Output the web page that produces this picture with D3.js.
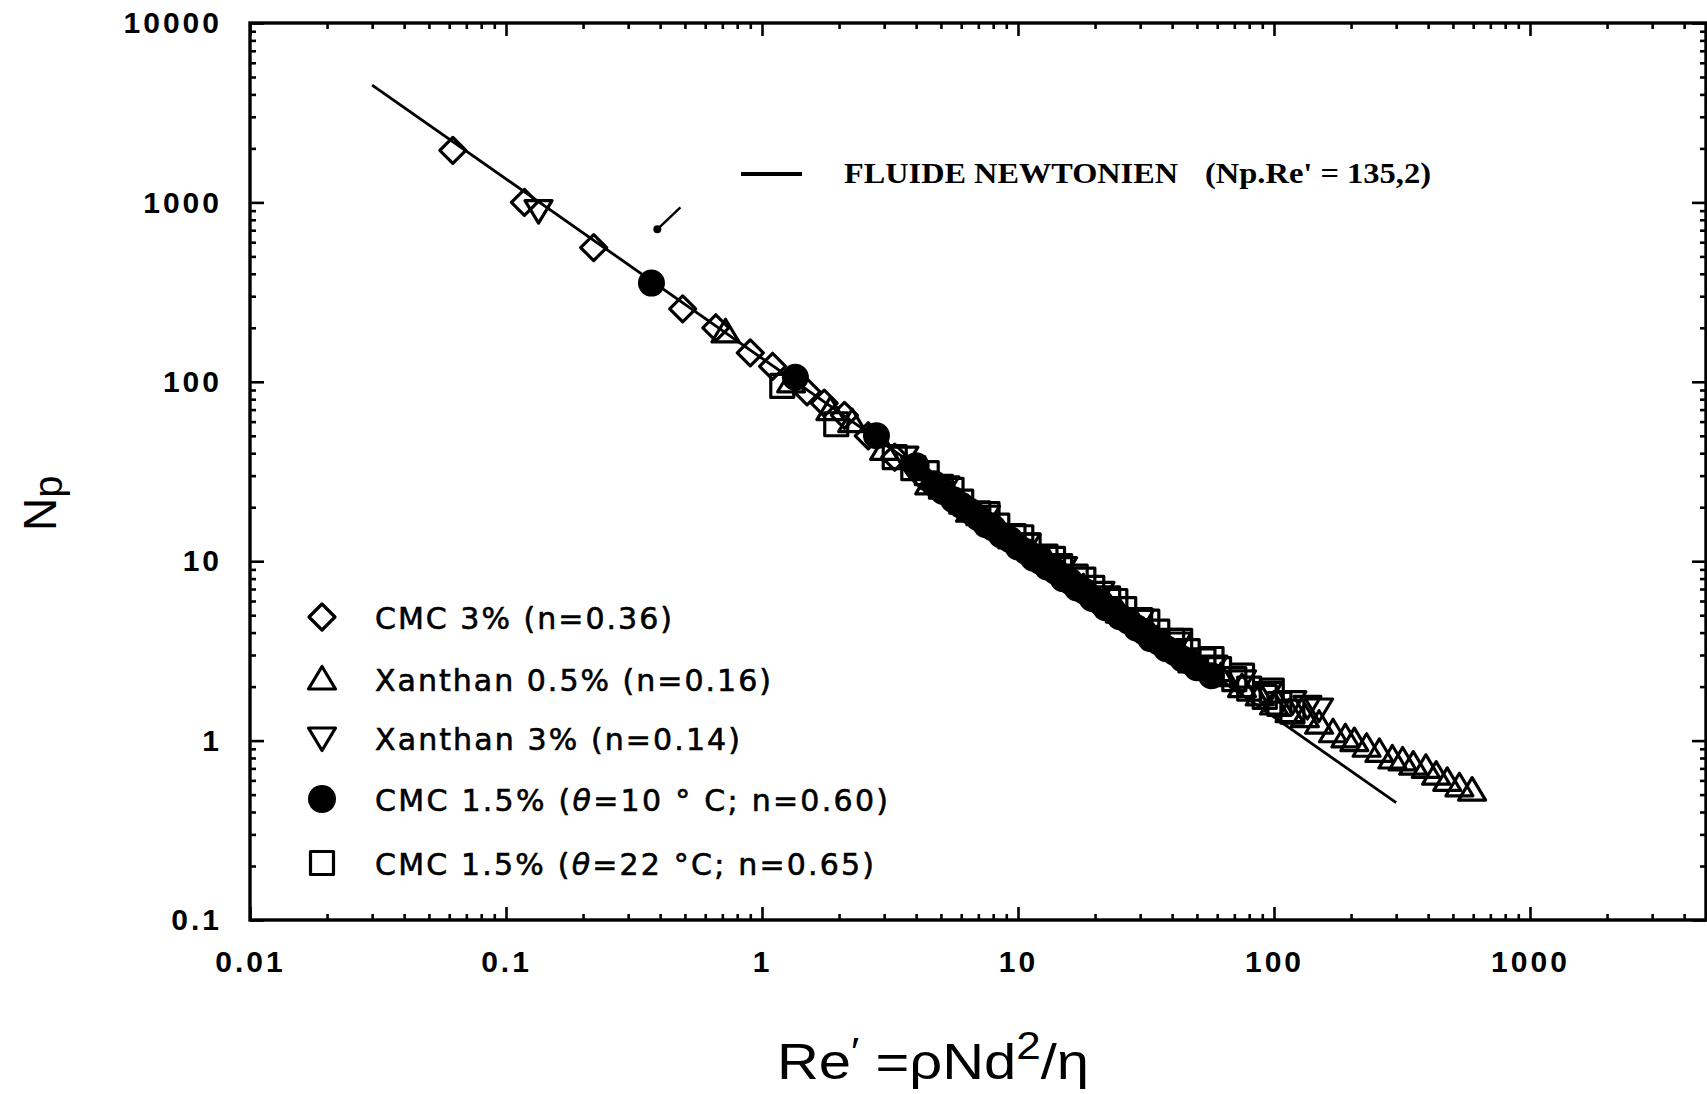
<!DOCTYPE html>
<html>
<head>
<meta charset="utf-8">
<script src="https://cdn.jsdelivr.net/npm/d3@7"></script>
<style>
  html, body { margin: 0; padding: 0; background: #fff; }
  svg { display: block; }
  .tick-label { font-family: "Liberation Sans", Arial, sans-serif; font-weight: bold; font-size: 30px; letter-spacing: 3px; fill: #000; }
  .leg { font-family: "DejaVu Sans", sans-serif; font-size: 30px; fill: #000; stroke: #000; stroke-width: 0.6px; }
</style>
</head>
<body>
<svg id="chart" width="1707" height="1094"></svg>
<script>
// ---------------- DATA ----------------
const xTickLabels = ["0.01", "0.1", "1", "10", "100", "1000"];
const yTickLabels = ["0.1", "1", "10", "100", "1000", "10000"];
const xDomain = [0.01, 4870];
const yDomain = [0.1, 10000];

// Newtonian fluid: Np.Re' = 135.2
const newtonConst = 135.2;
const newtonRe = [0.03, 300];

// CMC 3% (n=0.36) - open diamonds
const cmc3Re = [0.062, 0.118, 0.22, 0.49, 0.66, 0.9, 1.1, 1.5, 1.75, 2.1, 2.6, 3.3, 4.2];
const cmc3Np = [1950, 1000, 560, 255, 200, 145, 122, 88, 76, 65, 50, 38, 30];

// Xanthan 0.5% (n=0.16) - open triangles up
const xan05Re = [0.72, 1.3, 1.85, 2.25, 3.0, 4.5, 6.5, 9.5, 13, 18, 25, 35, 48, 62, 75, 88, 100, 115,
                 132, 150, 170, 190, 206, 230, 258, 290, 318, 350, 392, 430, 475, 530, 594];
const xan05Np = [190, 100, 70, 60, 42, 27, 19, 13.5, 10.2, 7.2, 5.2, 3.7, 2.75, 2.3, 2.0, 1.8, 1.6, 1.45,
                 1.36, 1.25, 1.12, 1.05, 1.0, 0.93, 0.87, 0.80, 0.78, 0.74, 0.71, 0.65, 0.60, 0.56, 0.53];

// Xanthan 3% (n=0.14) - open triangles down
const xan3Re = [0.134, 3.6, 5.2, 7.5, 10.8, 15, 21, 30, 42, 58, 75, 95, 118, 135, 150];
const xan3Np = [900, 38, 26, 17.8, 12.5, 9.2, 6.7, 4.7, 3.5, 2.6, 2.15, 1.85, 1.65, 1.55, 1.5];

// CMC 1.5% (theta=10 C; n=0.60) - filled circles
const cmc15aRe = [0.37, 1.35, 2.8, 4.0, 4.7, 5.6, 6.5, 7.5, 8.6, 10, 11.5, 13, 15, 17, 19.5, 22, 25, 29, 33, 38, 44, 50, 57,
                  5.1, 6.0, 7.0, 8.0, 9.3, 10.8, 12.2, 14, 16, 18.2, 21, 23.5, 27, 31, 35.5, 41, 47];
const cmc15aNp = [355, 106, 50, 34, 27, 22, 19, 16, 14, 12, 10.4, 9.3, 8.0, 7.1, 6.2, 5.5, 4.9, 4.25, 3.7, 3.25, 2.85, 2.55, 2.3,
                  24.5, 20.5, 17.5, 15.3, 13.2, 11.3, 10.0, 8.8, 7.7, 6.8, 5.9, 5.3, 4.65, 4.05, 3.55, 3.1, 2.75];

// CMC 1.5% (theta=22 C; n=0.65) - open squares
const cmc15bRe = [1.2, 1.95, 3.3, 3.9, 5.0, 6.0, 7.0, 8.3, 9.6, 11, 12.8, 14.6, 16.8, 19.5, 22.5, 26, 30, 35, 40, 46, 53, 61, 70, 80, 92, 105, 118,
                  4.4, 5.5, 7.6, 10.3, 13.7, 18, 24, 32, 43, 57, 75, 98];
const cmc15bNp = [95, 58, 38, 33, 26, 21.5, 18.5, 15.8, 13.8, 12.2, 10.6, 9.4, 8.2, 7.1, 6.2, 5.4, 4.7, 4.05, 3.6, 3.15, 2.8, 2.5, 2.2, 1.95, 1.75, 1.6, 1.45,
                  31, 25, 18.3, 13.6, 10.3, 7.9, 6.0, 4.6, 3.6, 2.85, 2.3, 1.9];

// stray scan mark (small arrow)
const strayRe = [0.48, 0.39];
const strayNp = [937, 708];

const legendLabels = ["CMC 3% (n=0.36)", "Xanthan 0.5% (n=0.16)", "Xanthan 3% (n=0.14)",
                      "CMC 1.5% (θ=10 ° C; n=0.60)", "CMC 1.5% (θ=22 °C; n=0.65)"];

// ---------------- CHART ----------------
const svg = d3.select("#chart");
const L = 250, R = 1706, T = 23, B = 920;
const x = d3.scaleLog().domain(xDomain).range([L, R]);
const y = d3.scaleLog().domain(yDomain).range([B, T]);

const majorX = xTickLabels.map(Number);
const majorY = yTickLabels.map(Number);
function minors(dom) {
  const out = [];
  for (let e = Math.floor(Math.log10(dom[0])); e <= Math.ceil(Math.log10(dom[1])); e++) {
    for (let k = 2; k <= 9; k++) {
      const v = k * Math.pow(10, e);
      if (v > dom[0] && v < dom[1]) out.push(v);
    }
  }
  return out;
}
const minorX = minors(xDomain), minorY = minors(yDomain);

function styleAxis(g) {
  g.select(".domain").remove();
  g.selectAll(".tick line").attr("stroke", "#000").attr("stroke-width", 2.6);
}

// bottom
svg.append("g").attr("transform", `translate(0,${B})`)
  .call(d3.axisBottom(x).tickValues(majorX).tickSize(-13).tickPadding(31).tickFormat((d, i) => xTickLabels[i]))
  .call(styleAxis)
  .selectAll("text").attr("class", "tick-label").attr("font-size", null).attr("font-family", null);
svg.append("g").attr("transform", `translate(0,${B})`)
  .call(d3.axisBottom(x).tickValues(minorX).tickSize(-6).tickFormat(""))
  .call(styleAxis);
// top
svg.append("g").attr("transform", `translate(0,${T})`)
  .call(d3.axisTop(x).tickValues(majorX).tickSize(-13).tickFormat(""))
  .call(styleAxis);
svg.append("g").attr("transform", `translate(0,${T})`)
  .call(d3.axisTop(x).tickValues(minorX).tickSize(-6).tickFormat(""))
  .call(styleAxis);
// left
svg.append("g").attr("transform", `translate(${L},0)`)
  .call(d3.axisLeft(y).tickValues(majorY).tickSize(-14).tickPadding(28).tickFormat((d, i) => yTickLabels[i]))
  .call(styleAxis)
  .selectAll("text").attr("class", "tick-label").attr("font-size", null).attr("font-family", null);
svg.append("g").attr("transform", `translate(${L},0)`)
  .call(d3.axisLeft(y).tickValues(minorY).tickSize(-6).tickFormat(""))
  .call(styleAxis);
// right
svg.append("g").attr("transform", `translate(${R},0)`)
  .call(d3.axisRight(y).tickValues(majorY).tickSize(-14).tickFormat(""))
  .call(styleAxis);
svg.append("g").attr("transform", `translate(${R},0)`)
  .call(d3.axisRight(y).tickValues(minorY).tickSize(-6).tickFormat(""))
  .call(styleAxis);

// frame
svg.append("rect").attr("x", L).attr("y", T).attr("width", R - L).attr("height", B - T)
  .attr("fill", "none").attr("stroke", "#000").attr("stroke-width", 3.4);

// Newtonian line
const line = d3.line().x(d => x(d)).y(d => y(newtonConst / d));
svg.append("path").datum(newtonRe).attr("d", line)
  .attr("fill", "none").attr("stroke", "#000").attr("stroke-width", 2.8);

// stray mark
svg.append("line").attr("x1", x(strayRe[0])).attr("y1", y(strayNp[0]))
  .attr("x2", x(strayRe[1])).attr("y2", y(strayNp[1])).attr("stroke", "#000").attr("stroke-width", 2.4);
svg.append("circle").attr("cx", x(strayRe[1])).attr("cy", y(strayNp[1])).attr("r", 4).attr("fill", "#000");

// marker shapes
const shapes = {
  diamond: "M0,-13L13,0L0,13L-13,0Z",
  triUp: "M-13.5,10L13.5,10L0,-12.5Z",
  triDown: "M-13.5,-10L13.5,-10L0,12.5Z",
  square: "M-11.5,-11.5L11.5,-11.5L11.5,11.5L-11.5,11.5Z"
};
function drawSeries(res, nps, kind) {
  const pts = res.map((r, i) => [r, nps[i]]);
  const g = svg.append("g");
  if (kind === "circle") {
    g.selectAll("circle").data(pts).join("circle")
      .attr("cx", d => x(d[0])).attr("cy", d => y(d[1])).attr("r", 13.5).attr("fill", "#000");
  } else {
    g.selectAll("path").data(pts).join("path")
      .attr("d", shapes[kind])
      .attr("transform", d => `translate(${x(d[0])},${y(d[1])})`)
      .attr("fill", "none").attr("stroke", "#000").attr("stroke-width", 3.2).attr("stroke-linejoin", "round");
  }
}
drawSeries(cmc15bRe, cmc15bNp, "square");
drawSeries(xan3Re, xan3Np, "triDown");
drawSeries(xan05Re, xan05Np, "triUp");
drawSeries(cmc3Re, cmc3Np, "diamond");
drawSeries(cmc15aRe, cmc15aNp, "circle");

// legend (lower left)
const legKinds = ["diamond", "triUp", "triDown", "circle", "square"];
const legY = [617, 679, 738, 799, 863];
const legLen = [297, 396, 365, 513, 499];
legKinds.forEach((k, i) => {
  if (k === "circle") {
    svg.append("circle").attr("cx", 322).attr("cy", legY[i]).attr("r", 14).attr("fill", "#000");
  } else {
    svg.append("path").attr("d", shapes[k]).attr("transform", `translate(322,${legY[i]})`)
      .attr("fill", "none").attr("stroke", "#000").attr("stroke-width", 3.2).attr("stroke-linejoin", "round");
  }
  const t = svg.append("text").attr("class", "leg").attr("x", 375).attr("y", legY[i] + 12)
    .attr("textLength", legLen[i]).attr("lengthAdjust", "spacing");
  const parts = legendLabels[i].split("θ");
  t.append("tspan").text(parts[0]);
  if (parts.length > 1) {
    t.append("tspan").attr("font-style", "italic").text("θ");
    t.append("tspan").text(parts[1]);
  }
});

// legend (top right) - Newtonian fluid
svg.append("line").attr("x1", 741).attr("x2", 802).attr("y1", 174).attr("y2", 174)
  .attr("stroke", "#000").attr("stroke-width", 4);
svg.append("text").attr("x", 844).attr("y", 183)
  .attr("font-family", "'Liberation Serif', 'Times New Roman', serif").attr("font-weight", "bold")
  .attr("font-size", 30).attr("textLength", 334).attr("lengthAdjust", "spacingAndGlyphs")
  .text("FLUIDE NEWTONIEN");
svg.append("text").attr("x", 1205).attr("y", 183)
  .attr("font-family", "'Liberation Serif', 'Times New Roman', serif").attr("font-weight", "bold")
  .attr("font-size", 30).attr("textLength", 226).attr("lengthAdjust", "spacingAndGlyphs")
  .text("(Np.Re' = 135,2)");

// x-axis title
const xt = svg.append("text").attr("x", 777).attr("y", 1079)
  .attr("font-family", "'Liberation Sans', Arial, sans-serif").attr("font-size", 50)
  .attr("textLength", 312).attr("lengthAdjust", "spacingAndGlyphs");
xt.append("tspan").text("Re");
xt.append("tspan").attr("dy", -14).attr("font-size", 38).text("′");
xt.append("tspan").attr("dy", 14).text("  =ρNd");
xt.append("tspan").attr("dy", -20).attr("font-size", 38).text("2");
xt.append("tspan").attr("dy", 20).text("/η");

// y-axis title
const yt = svg.append("text").attr("transform", "translate(56,531) rotate(-90)")
  .attr("font-family", "'Liberation Sans', Arial, sans-serif").attr("font-size", 46);
yt.append("tspan").text("N");
yt.append("tspan").attr("dy", 6).attr("font-size", 40).text("p");
</script>
</body>
</html>
